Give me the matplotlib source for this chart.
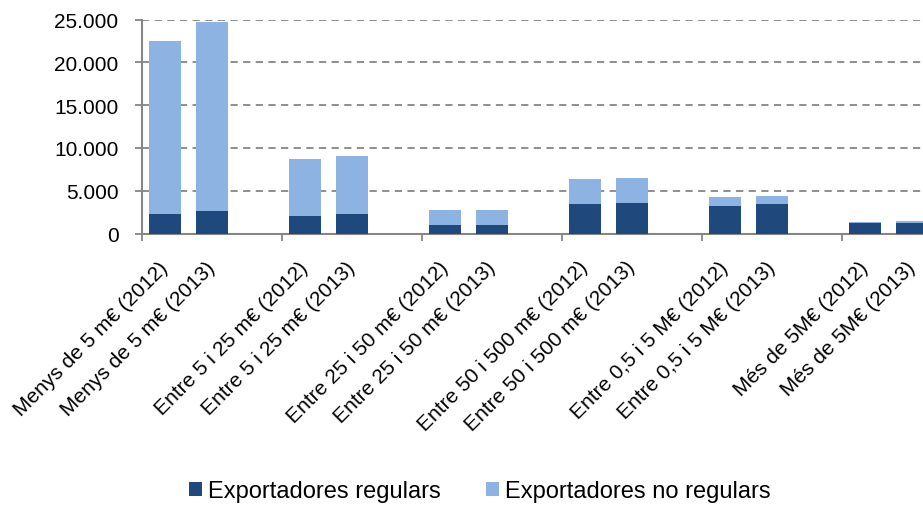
import matplotlib.pyplot as plt
from matplotlib.ticker import FuncFormatter

plt.rcParams['font.family'] = ['Liberation Sans', 'DejaVu Sans']

labels = ['Menys de 5 m€ (2012)', 'Menys de 5 m€ (2013)',
          'Entre 5 i 25 m€ (2012)', 'Entre 5 i 25 m€ (2013)',
          'Entre 25 i 50 m€ (2012)', 'Entre 25 i 50 m€ (2013)',
          'Entre 50 i 500 m€ (2012)', 'Entre 50 i 500 m€ (2013)',
          'Entre 0,5 i 5 M€ (2012)', 'Entre 0,5 i 5 M€ (2013)',
          'Més de 5M€ (2012)', 'Més de 5M€ (2013)']
regulars = [2260, 2600, 2030, 2260, 970, 970, 3430, 3550, 3200, 3430, 1200, 1200]
no_regulars = [20240, 22130, 6670, 6790, 1760, 1760, 2930, 2920, 1050, 940, 120, 240]

dark = '#1F497D'
light = '#8DB3E2'
grey = '#868686'

# two bars per group, then one empty slot
pos = [3 * (i // 2) + (i % 2) for i in range(len(labels))]

fig = plt.figure(figsize=(9.23, 5.06), dpi=100)
ax = fig.add_axes([142 / 923, 1 - 234.5 / 506, 840 / 923, 213.8 / 506])

ax.bar(pos, regulars, width=0.69, color=dark, label='Exportadores regulars', zorder=3)
ax.bar(pos, no_regulars, width=0.69, bottom=regulars, color=light,
       label='Exportadores no regulars', zorder=3)

ax.set_xlim(-0.5, 17.5)
ax.set_ylim(0, 25000)
ax.set_yticks(range(0, 25001, 5000))
ax.yaxis.set_major_formatter(FuncFormatter(lambda v, p: f'{int(v):,}'.replace(',', '.')))
ax.grid(axis='y', color=grey, linestyle=(0, (4, 3)), linewidth=1.3, zorder=0)

ax.set_xticks([x - 0.5 for x in range(0, 19, 3)])
ax.set_xticklabels([])
ax.set_xticks(pos, minor=True)
ax.set_xticklabels(labels, minor=True, rotation=45, ha='right', va='center',
                   rotation_mode='anchor', fontsize=15)
ax.tick_params(axis='x', which='minor', length=0, pad=22)
ax.tick_params(axis='x', which='major', length=5, width=1.3, color=grey)
ax.tick_params(axis='y', length=5, width=1.3, color=grey, labelsize=15, pad=12)

for s in ['top', 'right']:
    ax.spines[s].set_visible(False)
for s in ['left', 'bottom']:
    ax.spines[s].set_color(grey)
    ax.spines[s].set_linewidth(1.5)

fig.legend(loc='center', bbox_to_anchor=(480 / 923, 1 - 492 / 506), ncol=2,
           frameon=False, fontsize=17, handlelength=0.55, handleheight=0.55,
           handletextpad=0.25, columnspacing=1.9)

fig.savefig('out.png', dpi=100)
